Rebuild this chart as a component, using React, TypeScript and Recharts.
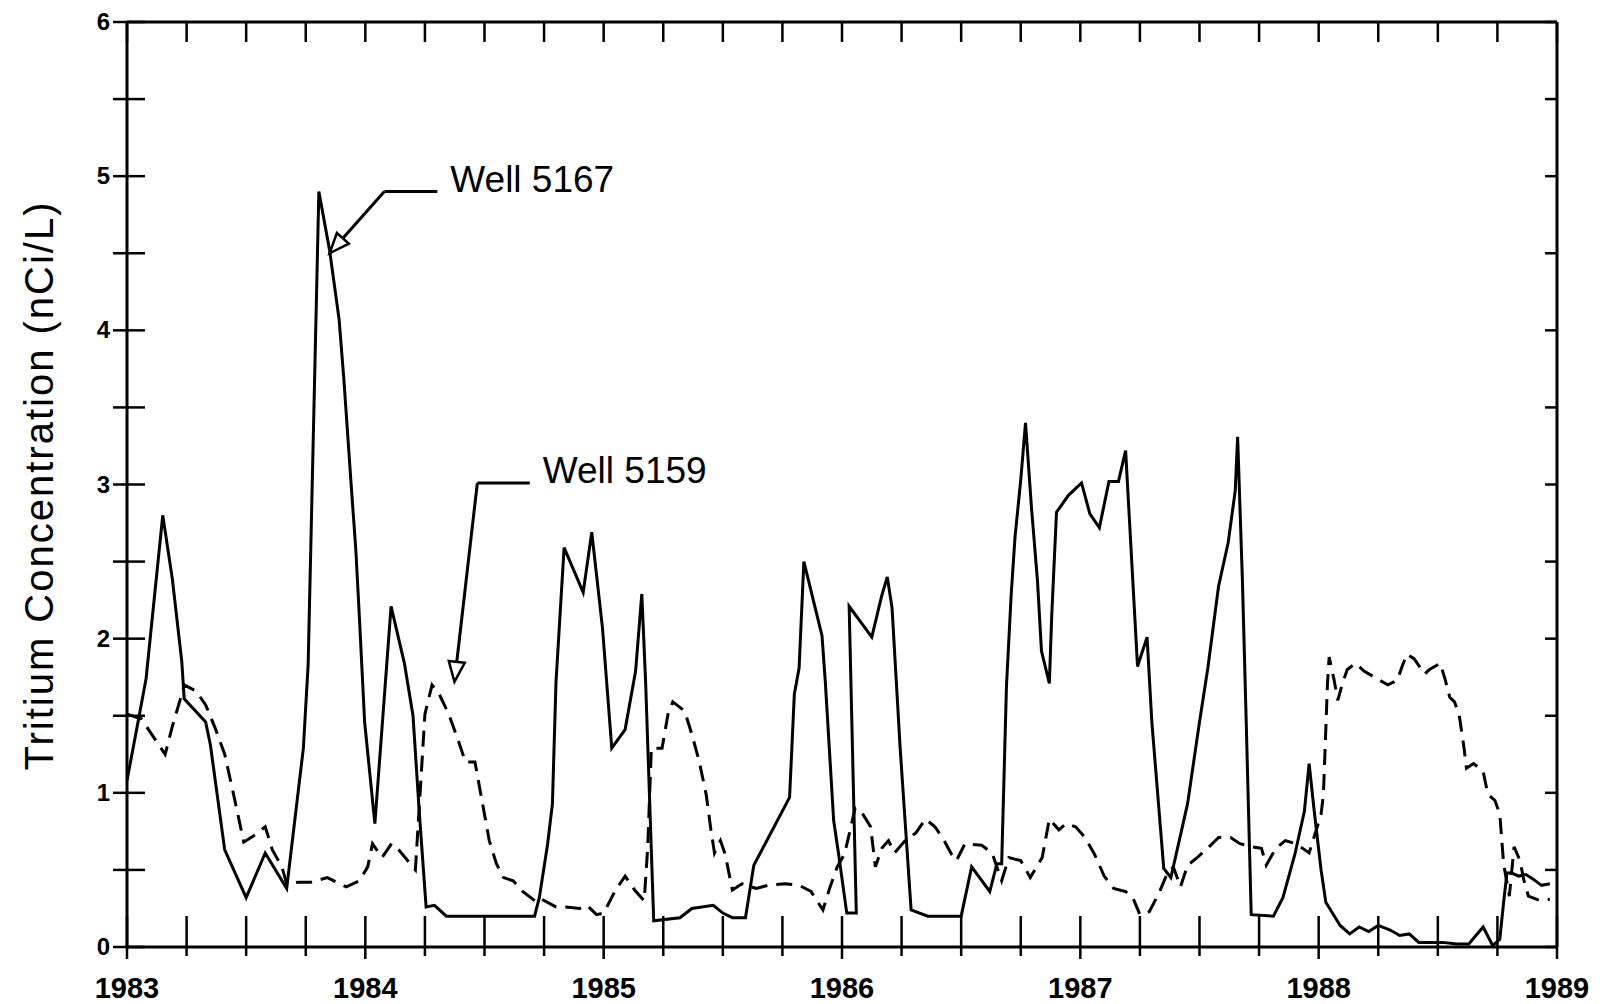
import React from 'react';
import { LineChart, Line, XAxis, YAxis, ReferenceLine } from 'recharts';

// Well 5167 (solid)
const well5167Years = [
  1983.0, 1983.05, 1983.08, 1983.15, 1983.19, 1983.23, 1983.24, 1983.33, 1983.35, 1983.41,
  1983.5, 1983.58, 1983.67, 1983.74, 1983.76, 1983.805, 1983.85, 1983.89, 1983.91, 1983.94,
  1983.96, 1983.976, 1983.997, 1984.04, 1984.108, 1984.164, 1984.2, 1984.227, 1984.255, 1984.29,
  1984.34, 1984.71, 1984.73, 1984.765, 1984.785, 1984.8, 1984.834, 1984.914, 1984.95, 1984.995,
  1985.034, 1985.09, 1985.134, 1985.16, 1985.176, 1985.21, 1985.32, 1985.37, 1985.46, 1985.5,
  1985.54, 1985.595, 1985.63, 1985.78, 1985.8, 1985.82, 1985.84, 1985.916, 1985.93, 1985.965,
  1985.986, 1986.02, 1986.06, 1986.03, 1986.125, 1986.167, 1986.19, 1986.21, 1986.244, 1986.29,
  1986.36, 1986.5, 1986.544, 1986.62, 1986.65, 1986.67, 1986.69, 1986.71, 1986.726, 1986.75,
  1986.77, 1986.795, 1986.82, 1986.837, 1986.87, 1986.88, 1986.9, 1986.95, 1987.005, 1987.04,
  1987.08, 1987.12, 1987.16, 1987.19, 1987.22, 1987.24, 1987.28, 1987.3, 1987.35, 1987.38,
  1987.45, 1987.5, 1987.535, 1987.58, 1987.62, 1987.65, 1987.66, 1987.68, 1987.696, 1987.717,
  1987.81, 1987.85, 1987.9, 1987.94, 1987.96, 1987.98, 1988.01, 1988.03, 1988.05, 1988.09,
  1988.13, 1988.17, 1988.21, 1988.25, 1988.3, 1988.34, 1988.38, 1988.42, 1988.52, 1988.58,
  1988.63, 1988.69, 1988.73, 1988.76, 1988.776, 1988.79, 1988.81, 1988.84, 1988.87, 1988.9,
  1988.935, 1988.97,
];
const well5167Values = [
  1.08, 1.49, 1.74, 2.8, 2.39, 1.85, 1.61, 1.46, 1.31, 0.63,
  0.32, 0.61, 0.38, 1.29, 1.83, 4.9, 4.52, 4.07, 3.68, 3.01,
  2.58, 2.11, 1.46, 0.8, 2.21, 1.84, 1.5, 0.86, 0.26, 0.27,
  0.2, 0.2, 0.32, 0.67, 0.93, 1.72, 2.59, 2.3, 2.69, 2.07,
  1.29, 1.41, 1.79, 2.29, 1.72, 0.17, 0.19, 0.25, 0.27, 0.22,
  0.19, 0.19, 0.53, 0.97, 1.64, 1.81, 2.5, 2.02, 1.72, 0.82,
  0.6, 0.22, 0.22, 2.21, 2.01, 2.28, 2.4, 2.2, 1.29, 0.24,
  0.2, 0.2, 0.52, 0.36, 0.54, 0.54, 1.69, 2.29, 2.66, 3.03,
  3.4, 2.85, 2.38, 1.92, 1.71, 2.15, 2.82, 2.93, 3.01, 2.81,
  2.72, 3.02, 3.02, 3.22, 2.38, 1.82, 2.01, 1.46, 0.51, 0.45,
  0.93, 1.46, 1.81, 2.34, 2.62, 2.96, 3.31, 2.38, 1.46, 0.21,
  0.2, 0.32, 0.6, 0.88, 1.19, 0.9, 0.5, 0.29, 0.24, 0.14,
  0.085, 0.13, 0.1, 0.14, 0.11, 0.075, 0.085, 0.03, 0.03, 0.02,
  0.02, 0.13, 0.01, 0.05, 0.29, 0.48, 0.48, 0.46, 0.47, 0.44,
  0.4, 0.41,
];

// Well 5159 (dashed)
const well5159Years = [
  1983.0, 1983.06, 1983.16, 1983.19, 1983.23, 1983.24, 1983.29, 1983.33, 1983.37, 1983.41,
  1983.45, 1983.49, 1983.54, 1983.58, 1983.61, 1983.65, 1983.67, 1983.72, 1983.77, 1983.84,
  1983.92, 1983.976, 1984.01, 1984.03, 1984.07, 1984.11, 1984.14, 1984.21, 1984.25, 1984.28,
  1984.31, 1984.35, 1984.39, 1984.42, 1984.46, 1984.48, 1984.5, 1984.52, 1984.55, 1984.58,
  1984.62, 1984.66, 1984.72, 1984.74, 1984.8, 1984.84, 1984.9, 1984.93, 1984.97, 1985.0,
  1985.05, 1985.09, 1985.13, 1985.17, 1985.185, 1985.2, 1985.245, 1985.27, 1985.29, 1985.34,
  1985.37, 1985.4, 1985.43, 1985.45, 1985.465, 1985.49, 1985.51, 1985.54, 1985.58, 1985.64,
  1985.69, 1985.76, 1985.82, 1985.87, 1985.92, 1985.95, 1985.98, 1986.01, 1986.03, 1986.055,
  1986.08, 1986.12, 1986.14, 1986.167, 1986.195, 1986.22, 1986.265, 1986.31, 1986.35, 1986.39,
  1986.425, 1986.46, 1986.48, 1986.516, 1986.586, 1986.63, 1986.67, 1986.7, 1986.75, 1986.79,
  1986.84, 1986.87, 1986.91, 1986.94, 1986.98, 1987.02, 1987.06, 1987.1, 1987.14, 1987.19,
  1987.22, 1987.25, 1987.29, 1987.33, 1987.36, 1987.39, 1987.42, 1987.45, 1987.49, 1987.54,
  1987.58, 1987.63, 1987.67, 1987.72, 1987.76, 1987.78, 1987.82, 1987.86, 1987.905, 1987.96,
  1987.99, 1988.01, 1988.02, 1988.037, 1988.044, 1988.065, 1988.08, 1988.1, 1988.12, 1988.155,
  1988.19, 1988.245, 1988.29, 1988.33, 1988.35, 1988.37, 1988.4, 1988.445, 1988.465, 1988.51,
  1988.53, 1988.55, 1988.57, 1988.59, 1988.61, 1988.62, 1988.65, 1988.69, 1988.71, 1988.74,
  1988.76, 1988.776, 1988.8, 1988.82, 1988.845, 1988.86, 1988.88, 1988.93, 1988.97,
];
const well5159Values = [
  1.51, 1.48, 1.25, 1.43, 1.64, 1.7, 1.66, 1.57, 1.42, 1.25,
  0.97, 0.68, 0.73, 0.78, 0.63, 0.52, 0.41, 0.42, 0.42, 0.45,
  0.39, 0.43, 0.52, 0.67, 0.58, 0.67, 0.63, 0.5, 1.51, 1.7,
  1.64, 1.51, 1.34, 1.2, 1.2, 1.03, 0.86, 0.69, 0.54, 0.45,
  0.43, 0.36, 0.29, 0.31, 0.26, 0.26, 0.25, 0.27, 0.21, 0.22,
  0.37, 0.46, 0.37, 0.3, 0.65, 1.29, 1.29, 1.51, 1.59, 1.53,
  1.38, 1.21, 0.99, 0.76, 0.61, 0.69, 0.6, 0.37, 0.41, 0.38,
  0.4, 0.41, 0.4, 0.36, 0.24, 0.39, 0.52, 0.6, 0.73, 0.9,
  0.88, 0.78, 0.52, 0.64, 0.69, 0.61, 0.69, 0.74, 0.83, 0.78,
  0.7, 0.6, 0.56, 0.67, 0.66, 0.61, 0.43, 0.58, 0.56, 0.45,
  0.58, 0.83, 0.76, 0.8, 0.78, 0.71, 0.6, 0.46, 0.38, 0.36,
  0.32, 0.21, 0.23, 0.35, 0.46, 0.52, 0.39, 0.53, 0.58, 0.65,
  0.71, 0.71, 0.67, 0.65, 0.64, 0.53, 0.64, 0.69, 0.67, 0.61,
  0.76, 0.86, 0.99, 1.71, 1.88, 1.73, 1.6, 1.71, 1.8, 1.84,
  1.79, 1.74, 1.7, 1.73, 1.82, 1.9, 1.87, 1.77, 1.8, 1.84,
  1.74, 1.62, 1.59, 1.5, 1.29, 1.16, 1.19, 1.14, 0.99, 0.95,
  0.86, 0.54, 0.33, 0.65, 0.56, 0.44, 0.33, 0.3, 0.31,
];

const xTicks = [
  1983, 1983.25, 1983.5, 1983.75, 1984, 1984.25, 1984.5, 1984.75, 1985, 1985.25,
  1985.5, 1985.75, 1986, 1986.25, 1986.5, 1986.75, 1987, 1987.25, 1987.5, 1987.75,
  1988, 1988.25, 1988.5, 1988.75, 1989,
];
const yTicks = [0, 0.5, 1, 1.5, 2, 2.5, 3, 3.5, 4, 4.5, 5, 5.5, 6];

// annotation anchor points, in data units: [label line end, elbow, arrow tip]
const label5167 = { text: 'Well 5167', end: { x: 1984.302, y: 4.9 }, elbow: { x: 1984.08, y: 4.9 }, tip: { x: 1983.85, y: 4.5 } };
const label5159 = { text: 'Well 5159', end: { x: 1984.69, y: 3.01 }, elbow: { x: 1984.47, y: 3.01 }, tip: { x: 1984.374, y: 1.72 } };

const FONT = '"Liberation Sans", Arial, sans-serif';

const well5167 = well5167Years.map((t, i) => ({ t, v: well5167Values[i] }));
const well5159 = well5159Years.map((t, i) => ({ t, v: well5159Values[i] }));

const BottomTick = (props: any) => {
  const { x, y, payload } = props;
  const major = Number.isInteger(payload.value);
  return (
    <g>
      <line x1={x} x2={x} y1={y - 31} y2={y + (major ? 12 : 9)} stroke="#000" strokeWidth={2.5} />
      {major && (
        <text x={x} y={y + 51} textAnchor="middle" fontSize={29} fontWeight="bold" fontFamily={FONT} fill="#000">
          {payload.value}
        </text>
      )}
    </g>
  );
};

const TopTick = (props: any) => {
  const { x, y } = props;
  return <line x1={x} x2={x} y1={y} y2={y + 20} stroke="#000" strokeWidth={2.5} />;
};

const LeftTick = (props: any) => {
  const { x, y, payload } = props;
  const major = Number.isInteger(payload.value);
  return (
    <g>
      <line x1={x - 14} x2={x + 18} y1={y} y2={y} stroke="#000" strokeWidth={2.5} />
      {major && (
        <text x={x - 17} y={y} dy={8} textAnchor="end" fontSize={24} fontWeight="bold" fontFamily={FONT} fill="#000">
          {payload.value}
        </text>
      )}
    </g>
  );
};

const RightTick = (props: any) => {
  const { x, y } = props;
  return <line x1={x - 12} x2={x} y1={y} y2={y} stroke="#000" strokeWidth={2.5} />;
};

const arrowShape = (props: any) => {
  const { x1, y1, x2, y2 } = props;
  const ang = Math.atan2(y2 - y1, x2 - x1);
  const len = 20;
  const half = 8;
  const bx = x2 - len * Math.cos(ang);
  const by = y2 - len * Math.sin(ang);
  const px = -Math.sin(ang) * half;
  const py = Math.cos(ang) * half;
  return (
    <g>
      <line x1={x1} y1={y1} x2={bx} y2={by} stroke="#000" strokeWidth={3} />
      <polygon
        points={`${x2},${y2} ${bx + px},${by + py} ${bx - px},${by - py}`}
        fill="#fff"
        stroke="#000"
        strokeWidth={2.5}
      />
    </g>
  );
};

const labelShape = (text: string) => (props: any) => {
  const { x1, y1, x2, y2 } = props;
  return (
    <g>
      <line x1={x1} y1={y1} x2={x2} y2={y2} stroke="#000" strokeWidth={3} />
      <text x={Math.max(x1, x2) + 13} y={y2} fontSize={37} fontFamily={FONT} fill="#000">
        {text}
      </text>
    </g>
  );
};

const YLabel = (props: any) => {
  const { viewBox } = props;
  const cy = viewBox.y + viewBox.height / 2 + 1;
  const cx = 53;
  return (
    <text
      x={cx}
      y={cy}
      transform={`rotate(-90 ${cx} ${cy})`}
      textAnchor="middle"
      fontSize={40}
      letterSpacing={2}
      fontFamily={FONT}
      fill="#000"
    >
      Tritium Concentration (nCi/L)
    </text>
  );
};

export default function App() {
  return (
    <div style={{ position: 'absolute', left: 0, top: 0, background: '#fff' }}>
      <LineChart width={1603} height={1004} margin={{ top: 0, right: 0, bottom: 0, left: 0 }}>
        <XAxis
          dataKey="t"
          type="number"
          domain={[1983, 1989]}
          ticks={xTicks}
          interval={0}
          height={57}
          tickSize={0}
          tickMargin={0}
          tickLine={false}
          tick={<BottomTick />}
          axisLine={{ stroke: '#000', strokeWidth: 3 }}
          allowDataOverflow
        />
        <XAxis
          xAxisId="top"
          orientation="top"
          dataKey="t"
          type="number"
          domain={[1983, 1989]}
          ticks={xTicks}
          interval={0}
          height={22}
          tickSize={0}
          tickMargin={0}
          tickLine={false}
          tick={<TopTick />}
          axisLine={{ stroke: '#000', strokeWidth: 3 }}
          allowDataOverflow
        />
        <YAxis
          type="number"
          domain={[0, 6]}
          ticks={yTicks}
          interval={0}
          width={127}
          tickSize={0}
          tickMargin={0}
          tickLine={false}
          tick={<LeftTick />}
          axisLine={{ stroke: '#000', strokeWidth: 3 }}
          label={{ content: <YLabel /> }}
          allowDataOverflow
        />
        <YAxis
          yAxisId="right"
          orientation="right"
          type="number"
          domain={[0, 6]}
          ticks={yTicks}
          interval={0}
          width={46}
          tickSize={0}
          tickMargin={0}
          tickLine={false}
          tick={<RightTick />}
          axisLine={{ stroke: '#000', strokeWidth: 3 }}
          allowDataOverflow
        />
        <Line
          data={well5159}
          dataKey="v"
          type="linear"
          stroke="#000"
          strokeWidth={3}
          strokeDasharray="16 9"
          dot={false}
          activeDot={false}
          isAnimationActive={false}
        />
        <Line
          data={well5167}
          dataKey="v"
          type="linear"
          stroke="#000"
          strokeWidth={3}
          dot={false}
          activeDot={false}
          isAnimationActive={false}
        />
        <ReferenceLine segment={[label5167.elbow, label5167.end]} shape={labelShape(label5167.text)} />
        <ReferenceLine segment={[label5167.elbow, label5167.tip]} shape={arrowShape} />
        <ReferenceLine segment={[label5159.elbow, label5159.end]} shape={labelShape(label5159.text)} />
        <ReferenceLine segment={[label5159.elbow, label5159.tip]} shape={arrowShape} />
      </LineChart>
    </div>
  );
}
